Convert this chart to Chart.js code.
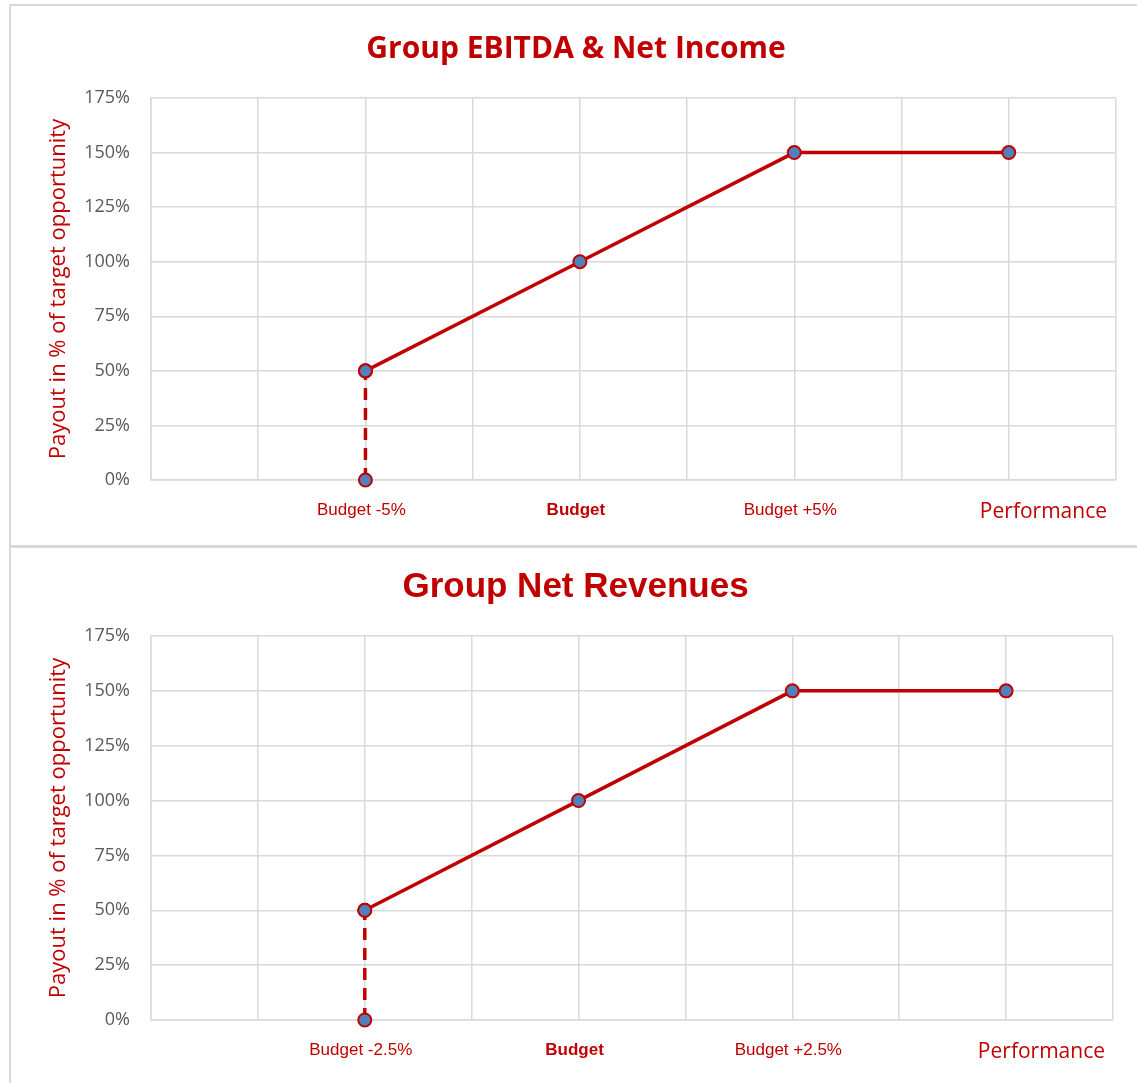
<!DOCTYPE html>
<html>
<head>
<meta charset="utf-8">
<script src="https://cdn.jsdelivr.net/npm/chart.js@4.4.1/dist/chart.umd.min.js"></script>
<style>
  body { margin: 0; background: #fff; width: 1137px; height: 1083px; overflow: hidden; position: relative; }
  .box { position: absolute; border: 2px solid #d9d9d9; box-sizing: border-box; }
  .wrap { position: absolute; }
</style>
</head>
<body>
<div class="box" style="left:9px; top:4px; width:1140px; height:544px;"></div>
<div class="box" style="left:9px; top:545px; width:1140px; height:560px;"></div>
<div class="wrap" style="left:11px; top:6px; width:1125px; height:539px;"><canvas id="chartTop"></canvas></div>
<div class="wrap" style="left:11px; top:547px; width:1125px; height:536px;"><canvas id="chartBottom"></canvas></div>
<script>
// ---- data ----
const yTicks = [0, 25, 50, 75, 100, 125, 150, 175];
const payoutX = [2, 4, 6, 8];
const payoutY = [50, 100, 150, 150];
const thresholdX = [2, 2];
const thresholdY = [0, 50];
const topLabels = { 2: 'Budget -5%', 4: 'Budget', 6: 'Budget +5%' };
const bottomLabels = { 2: 'Budget -2.5%', 4: 'Budget', 6: 'Budget +2.5%' };

const RED = '#c00000';
const BLUE = '#4f81bd';
const GRID = '#d9d9d9';

// draws the "Performance" caption at the right end of the x axis
const perfLabel = {
    id: 'perfLabel',
    afterDraw(chart, args, opts) {
        const ctx = chart.ctx;
        const area = chart.chartArea;
        ctx.save();
        ctx.font = '21px "Open Sans"';
        ctx.fillStyle = RED;
        ctx.textAlign = 'right';
        ctx.textBaseline = 'alphabetic';
        ctx.fillText('Performance', area.right - opts.right, area.bottom + 38);
        ctx.restore();
    }
};

function makeChart(id, title, titleFont, titlePad, labels, pad, yWidth, yTitlePad, xHeight, perfRight) {
    let pts = [];
    for (let i = 0; i < payoutX.length; i++) pts.push({ x: payoutX[i], y: payoutY[i] });
    let dash = [];
    for (let i = 0; i < thresholdX.length; i++) dash.push({ x: thresholdX[i], y: thresholdY[i] });

    return new Chart(document.getElementById(id), {
        type: 'scatter',
        data: {
            datasets: [{
                data: dash,
                showLine: true,
                clip: false,
                borderColor: RED,
                borderWidth: 3.5,
                borderDash: [12, 8],
                pointRadius: 6.5,
                pointBorderWidth: 2,
                pointBackgroundColor: BLUE,
                pointBorderColor: RED
            }, {
                data: pts,
                showLine: true,
                clip: false,
                borderColor: RED,
                borderWidth: 3.5,
                pointRadius: 6.5,
                pointBorderWidth: 2,
                pointBackgroundColor: BLUE,
                pointBorderColor: RED
            }]
        },
        options: {
            responsive: true,
            maintainAspectRatio: false,
            animation: false,
            layout: { padding: { left: pad.left, right: pad.right, top: 0, bottom: 0 } },
            plugins: {
                legend: { display: false },
                tooltip: { enabled: false },
                title: {
                    display: true,
                    text: title,
                    color: RED,
                    font: titleFont,
                    padding: titlePad
                },
                perfLabel: { right: perfRight }
            },
            scales: {
                x: {
                    type: 'linear',
                    min: 0,
                    max: 9,
                    afterFit: s => { s.height = xHeight; },
                    afterBuildTicks: s => { s.ticks = []; for (let v = 0; v <= 9; v++) s.ticks.push({ value: v }); },
                    grid: { color: GRID, lineWidth: 1.5, drawTicks: false },
                    border: { color: GRID, width: 1.5 },
                    ticks: {
                        autoSkip: false,
                        maxRotation: 0,
                        padding: 20,
                        labelOffset: -4,
                        color: RED,
                        font: c => ({ family: '"Liberation Sans", Arial', size: 17, weight: (c.tick && c.tick.value === 4) ? 'bold' : 'normal' }),
                        callback: v => labels[v] || ''
                    }
                },
                y: {
                    min: 0,
                    max: 175,
                    afterFit: s => { s.width = yWidth; },
                    afterBuildTicks: s => { s.ticks = yTicks.map(v => ({ value: v })); },
                    grid: { color: GRID, lineWidth: 1.5, drawTicks: false },
                    border: { color: GRID, width: 1.5 },
                    ticks: {
                        padding: 21,
                        color: '#595959',
                        font: { family: '"Open Sans"', size: 18 },
                        callback: v => v + '%'
                    },
                    title: {
                        display: true,
                        text: 'Payout in % of target opportunity',
                        color: RED,
                        font: { family: '"Open Sans"', size: 22 },
                        padding: { top: yTitlePad, bottom: 0 }
                    }
                }
            }
        },
        plugins: [perfLabel]
    });
}

makeChart('chartTop', 'Group EBITDA & Net Income',
    { family: '"Open Sans"', size: 30, weight: 'bold' },
    { top: 25, bottom: 31 }, topLabels, { left: 24, right: 19 }, 116, 11, 65, 9);

makeChart('chartBottom', 'Group Net Revenues',
    { family: '"Liberation Sans", Arial', size: 35, weight: 'bold' },
    { top: 19, bottom: 28 }, bottomLabels, { left: 27, right: 23 }, 113, 8, 63, 8);
</script>
</body>
</html>
